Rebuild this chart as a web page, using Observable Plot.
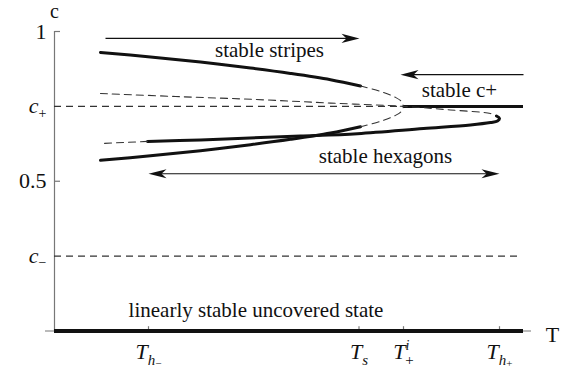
<!DOCTYPE html>
<html><head><meta charset="utf-8">
<script src="https://cdn.jsdelivr.net/npm/d3@7"></script>
<script src="https://cdn.jsdelivr.net/npm/@observablehq/plot@0.6"></script>
<style>
body{margin:0;background:#fff}
svg{display:block}
#chart svg, #chart svg text, #chart svg tspan{font-family:"Liberation Serif","Times New Roman",serif !important;}
</style>
</head><body><div id="chart"></div>
<script>
// ---- tick values and names ----
const cTickValues = [0.25, 0.5, 0.75, 1];
const cTickNames = ["c-", "0.5", "c+", "1"];
const tTickValues = [0.94, 3.045, 3.49, 4.45];
const tTickNames = ["Th-", "Ts", "Ti+", "Th+"];
const cPlus = 0.75, cMinus = 0.25;
const tPlusI = 3.49;
const tEnd = 4.69;           // end of the plotted T range
const cMinusEnd = 4.64;      // end of c- dashed line

// ---- stripes branches [T, c] ----
const stripesUpperStable = [[0.46,0.930],[0.96,0.915],[1.46,0.898],[1.96,0.878],[2.36,0.860],[2.76,0.839],[3.06,0.818]];
const stripesUpperUnstable = [[3.06,0.818],[3.26,0.800],[3.41,0.780],[3.47,0.766],[3.49,0.750]];
const stripesLowerStable = [[0.46,0.570],[0.96,0.585],[1.46,0.602],[1.96,0.622],[2.36,0.640],[2.76,0.661],[3.06,0.682]];
const stripesLowerUnstable = [[3.06,0.682],[3.26,0.700],[3.41,0.720],[3.47,0.734],[3.49,0.750]];

// ---- hexagon branch [T, c] ----
const hexUnstableUpper = [[0.46,0.793],[1.21,0.783],[2.01,0.773],[2.76,0.761],[3.49,0.750],[3.96,0.738],[4.36,0.726],[4.42,0.718]];
const hexStable = [[4.42,0.718],[4.45,0.710],[4.43,0.701],[4.36,0.696],[4.16,0.688],[3.69,0.676],[3.03,0.659],[2.46,0.651],[2.06,0.646],[1.46,0.638],[0.93,0.633]];
const hexUnstableLower = [[0.93,0.633],[0.46,0.626]];

// ---- arrows ----
const arrowFrom = [0.51, 4.69, 0.94];
const arrowTo = [3.05, 3.46, 4.45];
const arrowLevel = [0.977, 0.856, 0.525];
const arrowBothEnds = [false, false, true];

// ---- text labels ----
const labelText = ["stable stripes", "stable c+", "stable hexagons", "linearly stable uncovered state"];
const labelT = [2.15, 4.05, 3.31, 2.015];
const labelC = [0.936, 0.805, 0.585, 0.069];

const FONT = "'Liberation Serif', 'Times New Roman', serif";
const solid = {x: d => d[0], y: d => d[1], curve: "catmull-rom", stroke: "#111", strokeWidth: 3};
const dashed = {x: d => d[0], y: d => d[1], curve: "catmull-rom", stroke: "#333", strokeWidth: 1.1, strokeDasharray: "7,5"};

const arrowHead = {
  draw(ctx) {
    ctx.moveTo(0, 0);
    ctx.lineTo(-18, -4.6);
    ctx.lineTo(-13, 0);
    ctx.lineTo(-18, 4.6);
    ctx.closePath();
  }
};

const idx = arrowFrom.map((_, i) => i);
const heads = [];
idx.forEach(i => {
  const dir = Math.sign(arrowTo[i] - arrowFrom[i]);
  heads.push({x: arrowTo[i], c: arrowLevel[i], rot: dir > 0 ? 0 : 180});
  if (arrowBothEnds[i]) heads.push({x: arrowFrom[i], c: arrowLevel[i], rot: dir > 0 ? 180 : 0});
});

const cNameMap = new Map(cTickValues.map((v, i) => [v, cTickNames[i]]));
const tNameMap = new Map(tTickValues.map((v, i) => [v, tTickNames[i]]));

const chart = Plot.plot({
  width: 571,
  height: 373,
  marginLeft: 54,
  marginRight: 17,
  marginTop: 31,
  marginBottom: 42.5,
  x: {domain: [0, 5]},
  y: {domain: [0, 1]},
  style: {fontFamily: FONT, fontSize: "21px", background: "#fff", color: "#111"},
  marks: [
    // axes lines
    Plot.ruleX([0], {y1: 0, y2: 1, stroke: "#777", strokeWidth: 1.2}),
    Plot.ruleY([0], {x1: -0.09, x2: 4.77, stroke: "#777", strokeWidth: 1.2}),
    Plot.link([0.5, 1], {x1: 0, x2: 0.055, y1: d => d, y2: d => d, stroke: "#777", strokeWidth: 1.2}),
    Plot.link(tTickValues, {x1: d => d, x2: d => d, y1: 0, y2: 0.016, stroke: "#777", strokeWidth: 1.2}),
    Plot.axisY(cTickValues, {anchor: "left", tickSize: 0, tickPadding: 8, fontSize: 22, label: null, tickFormat: d => cNameMap.get(d)}),
    Plot.axisX(tTickValues, {anchor: "bottom", tickSize: 0, tickPadding: 12, fontSize: 22, label: null, tickFormat: d => tNameMap.get(d)}),
    // reference levels
    Plot.ruleY([cPlus], {x1: 0, x2: tPlusI, stroke: "#333", strokeWidth: 1.1, strokeDasharray: "7,5"}),
    Plot.ruleY([cMinus], {x1: 0, x2: cMinusEnd, stroke: "#333", strokeWidth: 1.1, strokeDasharray: "7,5"}),
    Plot.ruleY([cPlus], {x1: tPlusI, x2: tEnd, stroke: "#111", strokeWidth: 3}),
    Plot.ruleY([0], {x1: 0, x2: tEnd, stroke: "#111", strokeWidth: 4}),
    // branches
    Plot.line(stripesUpperStable, solid),
    Plot.line(stripesUpperUnstable, dashed),
    Plot.line(stripesLowerStable, solid),
    Plot.line(stripesLowerUnstable, dashed),
    Plot.line(hexUnstableUpper, dashed),
    Plot.line(hexStable, solid),
    Plot.line(hexUnstableLower, dashed),
    // arrows
    Plot.link(idx, {
      x1: i => arrowBothEnds[i] ? arrowFrom[i] + 0.05 * Math.sign(arrowTo[i] - arrowFrom[i]) : arrowFrom[i],
      x2: i => arrowTo[i] - 0.05 * Math.sign(arrowTo[i] - arrowFrom[i]),
      y1: i => arrowLevel[i], y2: i => arrowLevel[i], stroke: "#111", strokeWidth: 1.1
    }),
    Plot.dot(heads, {x: "x", y: "c", rotate: "rot", symbol: arrowHead, fill: "#111", stroke: null}),
    // labels
    Plot.text(idx.concat([3]), {x: i => labelT[i], y: i => labelC[i], text: i => labelText[i], fontSize: 21, fontFamily: FONT, textAnchor: "middle", fill: "#111"}),
    Plot.text(["c"], {x: 0, y: 1.066, text: d => d, fontSize: 20, fontFamily: FONT, fill: "#111"}),
    Plot.text(["T"], {x: 4.98, y: -0.012, text: d => d, fontSize: 22, fontFamily: FONT, fill: "#111"})
  ]
});
chart.setAttribute("font-family", FONT);

// rich (italic / sub / superscript) tick labels
const NS = "http://www.w3.org/2000/svg";
const rich = {
  "c+": [{t: "c", it: 1}, {t: "+", size: 14, dy: 5}],
  "c-": [{t: "c", it: 1}, {t: "\u2212", size: 14, dy: 4}],
  "Th-": [{t: "T", it: 1}, {t: "h", it: 1, size: 15, dy: 6}, {t: "\u2212", size: 11, dy: 2}],
  "Th+": [{t: "T", it: 1}, {t: "h", it: 1, size: 15, dy: 6}, {t: "+", size: 11, dy: 2}],
  "Ts": [{t: "T", it: 1}, {t: "s", it: 1, size: 15, dy: 6}],
  "Ti+": [{t: "T", it: 1}, {t: "i", it: 1, size: 14, dy: -9}, {t: "+", size: 15, dx: -4, dy: 15}]
};
chart.querySelectorAll("text").forEach(el => {
  el.setAttribute("font-family", FONT);
  const key = el.textContent;
  if (el.children.length === 0 && rich[key]) {
    el.textContent = "";
    for (const p of rich[key]) {
      const ts = document.createElementNS(NS, "tspan");
      ts.textContent = p.t;
      if (p.size) ts.setAttribute("font-size", p.size);
      if (p.it) ts.setAttribute("font-style", "italic");
      if (p.dy) ts.setAttribute("dy", p.dy);
      if (p.dx) ts.setAttribute("dx", p.dx);
      el.appendChild(ts);
    }
  }
});
document.getElementById("chart").appendChild(chart);
</script>
</body></html>
